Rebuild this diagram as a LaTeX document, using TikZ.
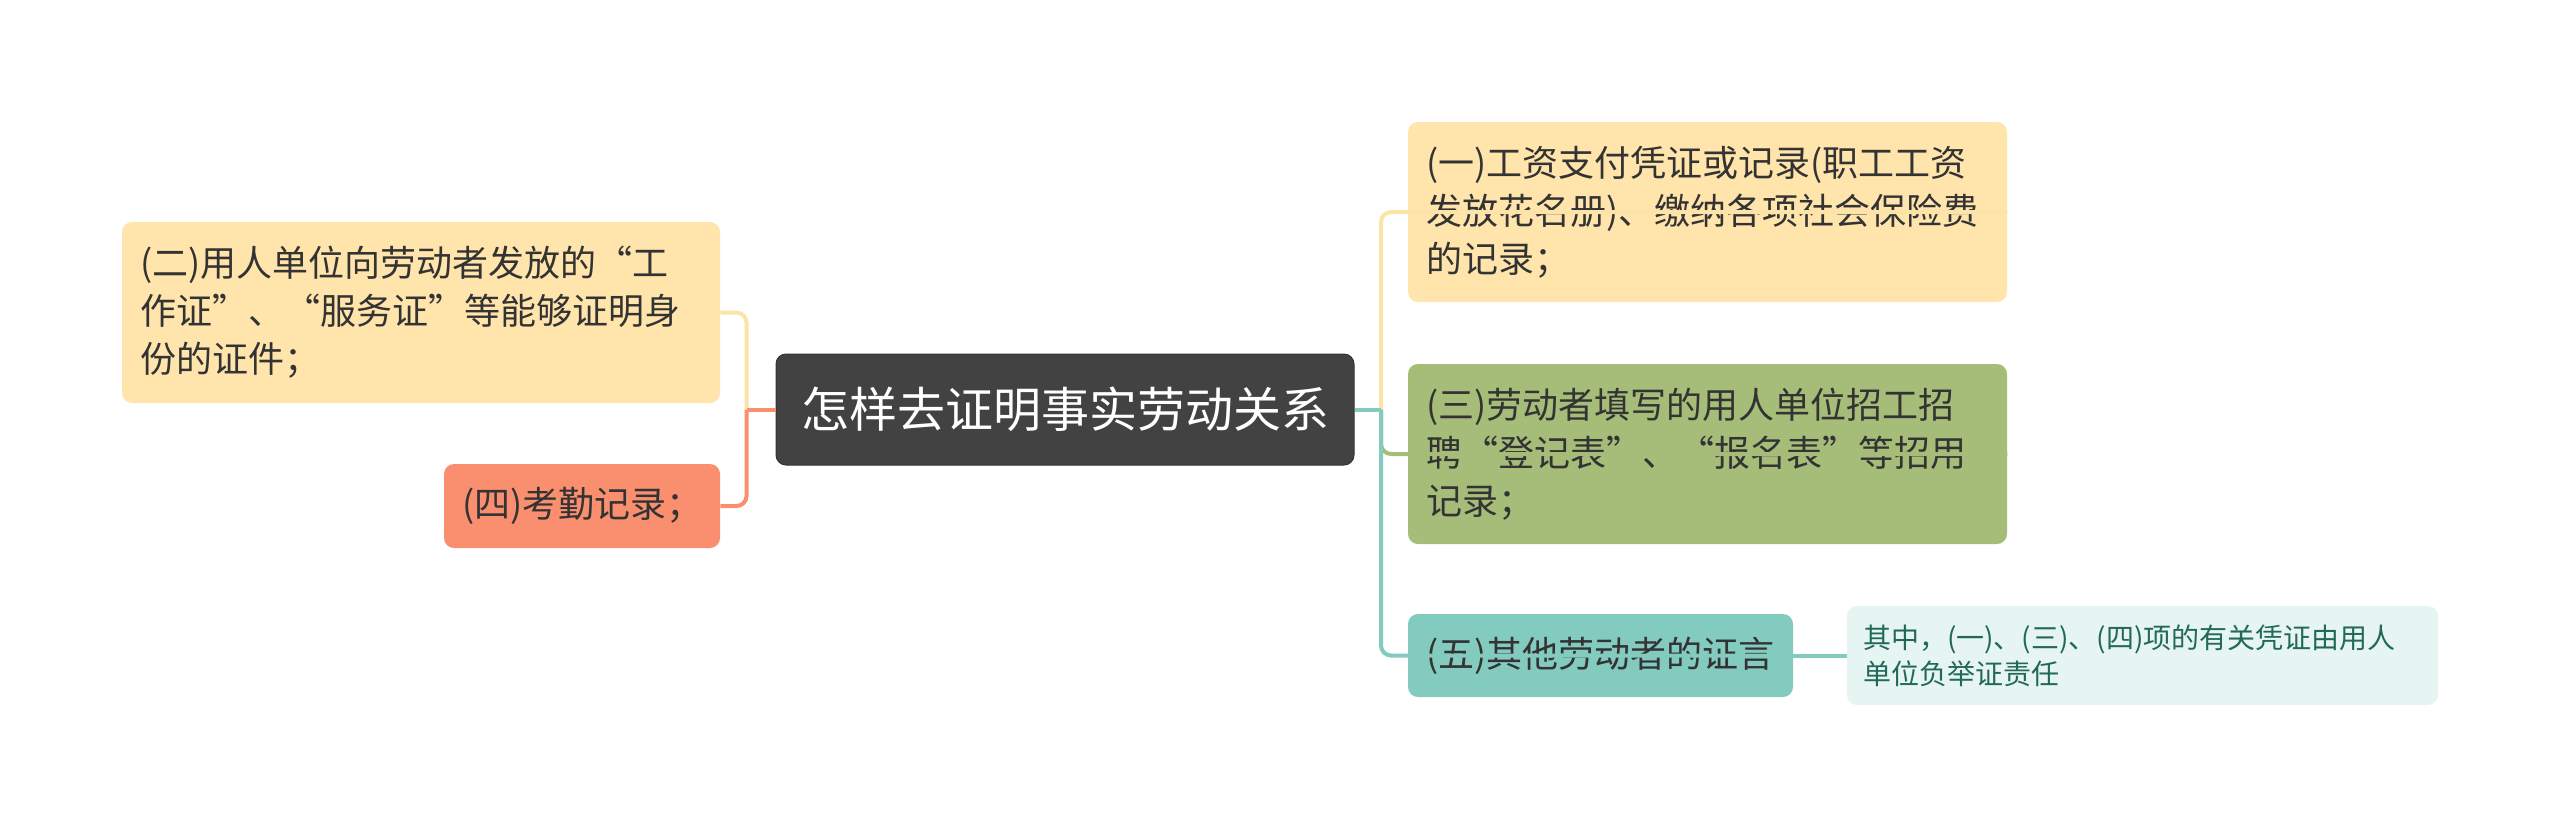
\documentclass[tikz,border=0pt]{standalone}
\usepackage{fontspec}
\setmainfont{Noto Sans CJK SC}
\definecolor{cDark}{HTML}{424242}
\definecolor{cYellow}{HTML}{FFE5AB}
\definecolor{cYellowLine}{HTML}{FCE4A8}
\definecolor{cSalmon}{HTML}{F98F6E}
\definecolor{cGreen}{HTML}{A5BD78}
\definecolor{cTeal}{HTML}{82CBBE}
\definecolor{cNote}{HTML}{E6F5F1}
\definecolor{cNoteText}{HTML}{22695A}
\definecolor{cText}{HTML}{333333}
\tikzset{
  box/.style={rounded corners=5pt, inner xsep=9pt, inner ysep=0pt, align=left, text=cText,
    font=\fontsize{18pt}{24pt}\selectfont, anchor=center},
  conn/.style={line width=2pt, rounded corners=5pt}
}
\begin{document}
\begin{tikzpicture}[x=0.5pt,y=-0.5pt]
\useasboundingbox (0,0) rectangle (2560,827);
\node[rounded corners=5pt, fill=cDark, draw=black!80, line width=0.5pt, minimum width=289pt, minimum height=55.5pt, inner sep=0pt, text=white, font=\fontsize{24pt}{30pt}\selectfont] (c) at (1065,409.5) {怎样去证明事实劳动关系};
\node[box, fill=cYellow, text width=281pt, minimum height=90.5pt] (b2) at (421,312.5) {(二)用人单位向劳动者发放的“工\\作证”、“服务证”等能够证明身\\份的证件；};
\node[box, fill=cSalmon, text width=120pt, minimum height=42pt] (b4) at (582,506) {(四)考勤记录；};
\node[box, fill=cYellow, text width=281.5pt, minimum height=90pt] (b1) at (1707.5,212) {(一)工资支付凭证或记录(职工工资\\发放花名册)、缴纳各项社会保险费\\的记录；};
\node[box, fill=cGreen, text width=281.5pt, minimum height=90pt] (b3) at (1707.5,454) {(三)劳动者填写的用人单位招工招\\聘“登记表”、“报名表”等招用\\记录；};
\node[box, fill=cTeal, text width=174.5pt, minimum height=41.5pt] (b5) at (1600.5,655.5) {(五)其他劳动者的证言};
\node[box, fill=cNote, text=cNoteText, inner xsep=8pt, text width=279.5pt, minimum height=49.5pt, font=\fontsize{14pt}{18pt}\selectfont] (n) at (2142.5,655.5) {其中，(一)、(三)、(四)项的有关凭证由用人\\单位负举证责任};
\coordinate (jl) at (746.5,409.5);
\coordinate (jr) at (1381,409.5);
\draw[conn, cYellowLine] (jl) |- (b2.east);
\draw[conn, cSalmon] (jl) |- (b4.east);
\draw[conn, cSalmon] (c.west) -- (jl);
\draw[conn, cYellowLine] (jr) |- (b1.east);
\draw[conn, cGreen] (jr) |- (b3.east);
\draw[conn, cTeal] (jr) |- (b5.east);
\draw[conn, cTeal] (c.east) -- (jr);
\draw[conn, cTeal] (b5.east) -- (n.west);
\end{tikzpicture}
\end{document}
